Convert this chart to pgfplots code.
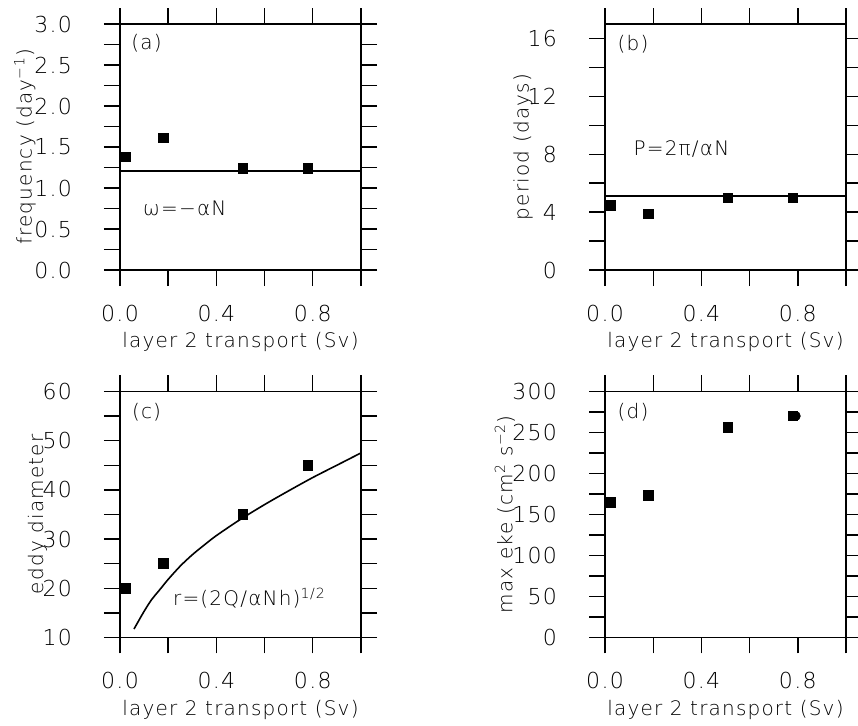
\documentclass[border=0pt]{standalone}
\usepackage{fontspec}
\setmainfont{DejaVu Sans ExtraLight}[LetterSpace=6.0]
\usepackage{pgfplots}
\pgfplotsset{compat=1.18}

\newcommand\tickfont{\fontsize{11}{13}\selectfont}
\newcommand\labfont{\fontsize{10}{12}\selectfont}

\pgfplotsset{
  panel/.style={
    scale only axis, width=120.5pt, height=123pt,
    xmin=0, xmax=1,
    xtick={0,0.2,0.4,0.6,0.8,1}, xticklabels={0.0,,0.4,,0.8,},
    tick align=outside, major tick length=8pt,
    tick style={line width=0.7pt, black},
    axis line style={line width=0.7pt},
    ticklabel style={font=\tickfont},
    xticklabel style={yshift=-6pt},
    yticklabel style={xshift=-12.5pt},
    clip=false,
  },
  pts/.style={only marks, mark=square*, mark size=2.4pt, black},
  fit/.style={black, line width=0.8pt, mark=none},
}
\tikzset{lab/.style={font=\labfont, anchor=center}}
\newcommand\xlab{\node[lab] at (rel axis cs:0.5,-0.293) {layer 2 transport (Sv)};}

\begin{document}
\begin{tikzpicture}

% (a) frequency
\begin{axis}[panel, at={(60pt,-135pt)}, anchor=south west,
  ymin=0, ymax=3,
  ytick={0,0.25,0.5,0.75,1,1.25,1.5,1.75,2,2.25,2.5,2.75,3},
  yticklabels={0.0,,0.5,,1.0,,1.5,,2.0,,2.5,,3.0}]
\addplot[fit] coordinates {(0,1.21) (1,1.21)};
\addplot[pts] coordinates {(0.025,1.38) (0.18,1.61) (0.51,1.24) (0.78,1.24)};
\node[lab] at (rel axis cs:0.11,0.922) {(a)};
\node[lab] at (rel axis cs:0.269,0.251) {ω=−αN};
\xlab
\node[lab, rotate=90] at (rel axis cs:-0.394,0.5) {frequency (day\textsuperscript{−1})};
\end{axis}

% (b) period
\begin{axis}[panel, at={(302.5pt,-135pt)}, anchor=south west,
  ymin=0, ymax=17,
  ytick={0,2,4,6,8,10,12,14,16},
  yticklabels={0,,4,,8,,12,,16}]
\addplot[fit] coordinates {(0,5.13) (1,5.13)};
\addplot[pts] coordinates {(0.025,4.46) (0.18,3.88) (0.51,4.99) (0.78,4.99)};
\node[lab] at (rel axis cs:0.116,0.916) {(b)};
\node[lab] at (rel axis cs:0.317,0.49) {P=2π/αN};
\xlab
\node[lab, rotate=90] at (rel axis cs:-0.34,0.5) {period (days)};
\end{axis}

% (c) eddy diameter
\begin{axis}[panel, at={(60pt,-318.7pt)}, anchor=south west,
  ymin=10, ymax=60,
  ytick={10,15,20,25,30,35,40,45,50,55,60},
  yticklabels={10,,20,,30,,40,,50,,60}]
\addplot[fit, smooth] coordinates {
  (0.058,11.7) (0.08,13.6) (0.10,15.3) (0.13,17.6) (0.165,19.7)
  (0.20,21.8) (0.25,24.5) (0.30,26.8) (0.35,28.8) (0.40,30.7)
  (0.50,34.0) (0.60,37.0) (0.70,39.8) (0.80,42.5) (0.90,45.0) (1.00,47.5)};
\addplot[pts] coordinates {(0.025,20) (0.18,25) (0.51,35) (0.78,45)};
\node[lab] at (rel axis cs:0.11,0.915) {(c)};
\node[lab] at (rel axis cs:0.537,0.16) {r=(2Q/αNh)\textsuperscript{1/2}};
\xlab
\node[lab, rotate=90] at (rel axis cs:-0.343,0.5) {eddy diameter};
\end{axis}

% (d) max eke
\begin{axis}[panel, at={(302.5pt,-318.7pt)}, anchor=south west,
  ymin=0, ymax=300,
  ytick={0,25,50,75,100,125,150,175,200,225,250,275,300},
  yticklabels={0,,50,,100,,150,,200,,250,,300}]
\addplot[pts] coordinates {(0.025,165) (0.18,173) (0.51,256) (0.78,270)};
\addplot[only marks, mark=*, mark size=2.2pt, black] coordinates {(0.792,270)};
\node[lab] at (rel axis cs:0.116,0.917) {(d)};
\xlab
\node[lab, rotate=90] at (rel axis cs:-0.415,0.5) {max eke (cm\textsuperscript{2} s\textsuperscript{−2})};
\end{axis}

\pgfresetboundingbox
\useasboundingbox (0,0) rectangle (429pt,-362.5pt);
\end{tikzpicture}
\end{document}
